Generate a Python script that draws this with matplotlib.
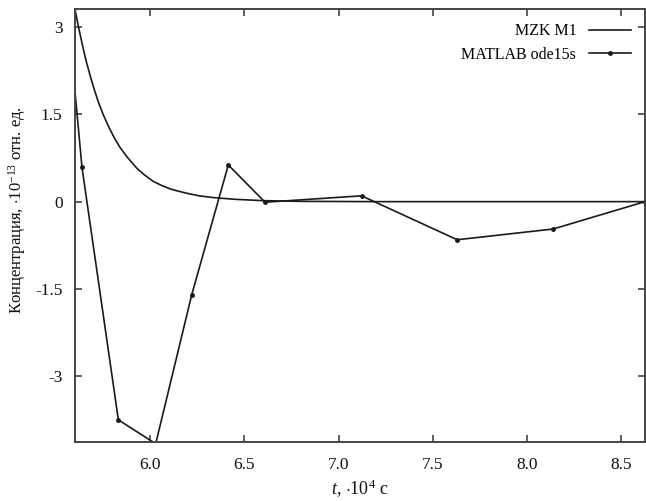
import matplotlib
matplotlib.use("Agg")
import matplotlib.pyplot as plt

plt.rcParams['font.family'] = ['Liberation Serif', 'DejaVu Serif']
plt.rcParams['mathtext.fontset'] = 'custom'
plt.rcParams['mathtext.rm'] = 'Liberation Serif'
plt.rcParams['mathtext.it'] = 'Liberation Serif:italic'
plt.rcParams['axes.unicode_minus'] = False

# MZK M1 (smooth decay)
mzk_t = [5.602, 5.62, 5.64, 5.66, 5.682, 5.70, 5.725, 5.751, 5.78, 5.81, 5.841,
         5.88, 5.931, 5.97, 6.016, 6.06, 6.106, 6.15, 6.201, 6.26, 6.334,
         6.45, 6.599, 6.8, 7.2, 7.6, 8.0, 8.4, 8.625]
mzk_y = [3.31, 3.01, 2.71, 2.43, 2.17, 1.97, 1.72, 1.50, 1.29, 1.10, 0.93,
         0.76, 0.57, 0.46, 0.35, 0.28, 0.22, 0.18, 0.14, 0.10, 0.07,
         0.04, 0.017, 0.005, 0.0, 0.0, 0.0, 0.0, 0.0]

# MATLAB ode15s steps
ode_t = [5.585, 5.639, 5.832, 6.030, 6.221, 6.415, 6.610, 7.122, 7.629, 8.138, 8.625]
ode_y = [2.49, 0.59, -3.75, -4.16, -1.60, 0.63, -0.01, 0.10, -0.655, -0.47, 0.0]

xticks = [6.0, 6.5, 7.0, 7.5, 8.0, 8.5]
yticks = [3, 1.5, 0, -1.5, -3]
ytick_labels = ['3', '1.5', '0', '-1.5', '-3']

fig = plt.figure(figsize=(6.46, 5.01), dpi=100)
ax = fig.add_axes([0.1161, 0.1178, 0.8824, 0.8642])

ax.plot(mzk_t, mzk_y, color='#1a1a1a', lw=1.2, label='MZK M1')
ax.plot(ode_t, ode_y, color='#1a1a1a', lw=1.2, marker='o', ms=2.5,
        label='MATLAB ode15s')

ax.set_xlim(5.602, 8.625)
ax.set_ylim(-4.13, 3.31)
ax.set_xticks(xticks)
ax.set_xticklabels(['%.1f' % v for v in xticks])
ax.set_yticks(yticks)
ax.set_yticklabels(ytick_labels)
ax.tick_params(direction='in', top=True, right=True, length=5, width=1.1,
               labelsize=12.5, color='#333333', labelcolor='#111111')
ax.tick_params(axis='x', pad=11)
ax.tick_params(axis='y', pad=9)
for s in ax.spines.values():
    s.set_linewidth(1.4)
    s.set_color('#444444')

ax.set_xlabel(r'$t$, $\cdot$10$^{4}$ с', fontsize=13, labelpad=3, color='#111111')
ax.set_ylabel(r'Концентрация, $\cdot$10$^{-13}$ отн. ед.', fontsize=12,
              color='#111111')
ax.yaxis.set_label_coords(-0.082, 0.535)

leg = ax.legend(loc='upper right', frameon=False, fontsize=11.5, markerfirst=False,
                handlelength=2.6, borderaxespad=0.5, labelspacing=0.45)

fig.savefig('out.png', dpi=100)
